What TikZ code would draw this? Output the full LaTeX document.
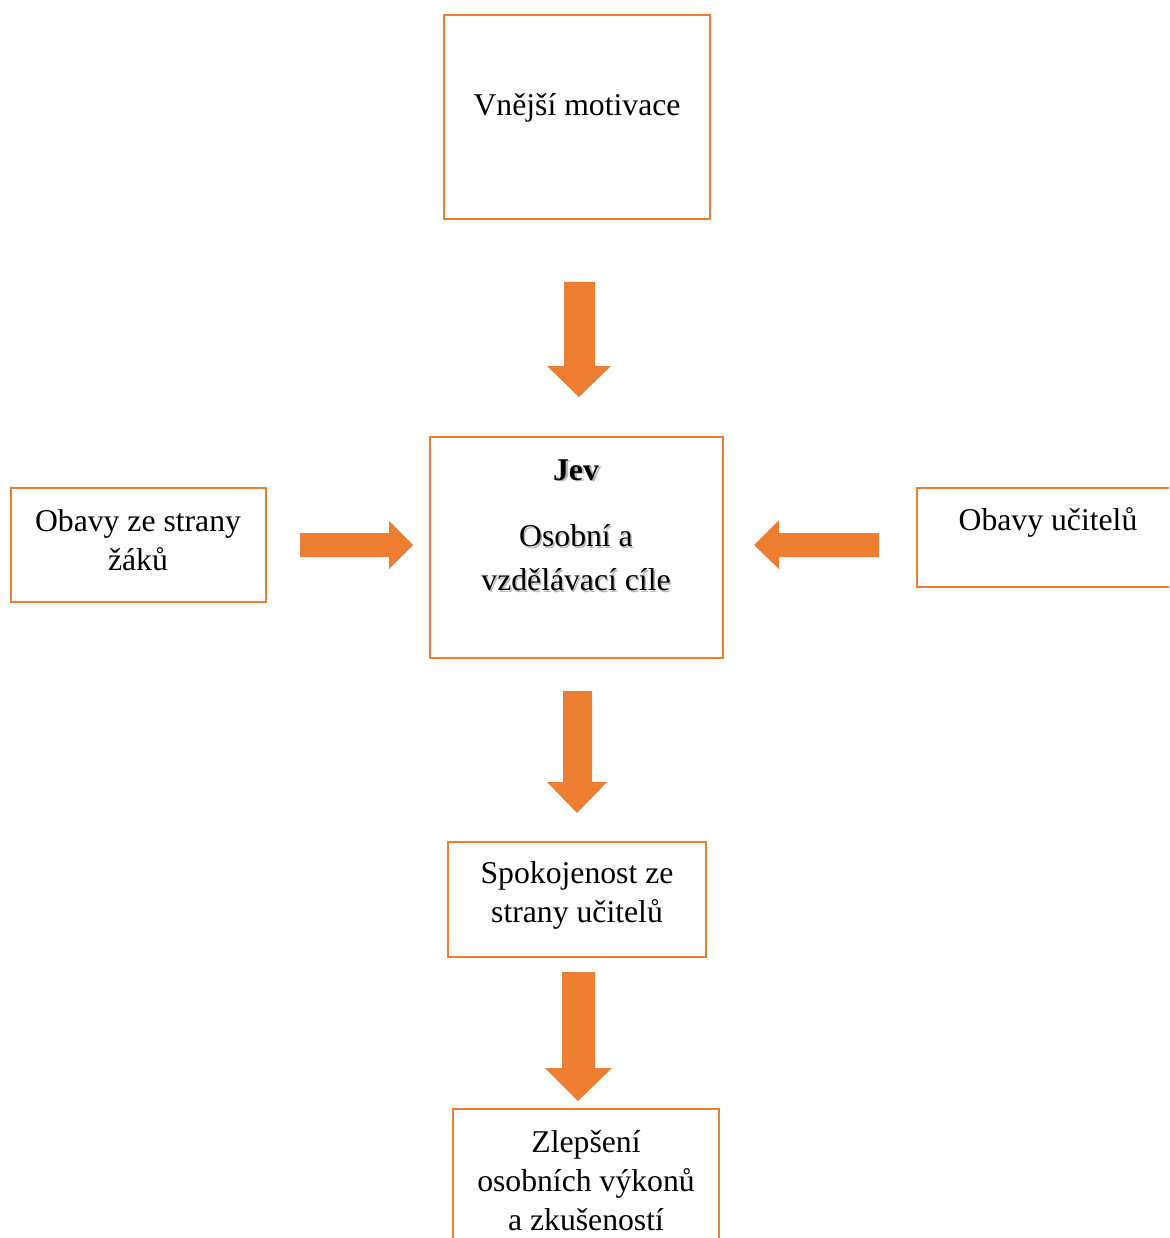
\documentclass[tikz,border=0pt]{standalone}
\usepackage{fontspec}
\setmainfont{Liberation Serif}
\definecolor{orng}{HTML}{ED7D31}
\begin{document}
\begin{tikzpicture}[x=1pt,y=-1pt,
  box/.style={draw=orng,line width=2.6pt,fill=none,inner sep=0pt,outer sep=0pt,anchor=north west},
  txt/.style={font=\fontsize{31.7}{39}\selectfont,align=center,inner sep=0pt,text=black},
  shd/.style={font=\fontsize{31.7}{44}\selectfont,align=center,inner sep=0pt,text=black!45,opacity=0.6},
  blockarrow/.style={fill=orng,draw=none}]
\useasboundingbox (0,0) rectangle (1169,1238);
\clip (0,0) rectangle (1169,1238);
\fill[white] (0,0) rectangle (1169,1238);
% boxes
\node[box,minimum width=266pt,minimum height=204pt] (top) at (444,15) {};
\node[box,line width=2pt,minimum width=293pt,minimum height=221pt] (mid) at (430,437) {};
\node[box,minimum width=255pt,minimum height=114pt] (left) at (11,488) {};
\node[box,minimum width=270pt,minimum height=99pt] (right) at (917,488) {};
\node[box,minimum width=258pt,minimum height=115pt] (spok) at (448,842) {};
\node[box,minimum width=266pt,minimum height=150pt] (bot) at (453,1109) {};
% texts
\node[txt] (ttop) at (577,108) {Vnější motivace};
\node[shd,font=\fontsize{31.7}{44}\selectfont\bfseries] at (578.5,471.5) {Jev};
\node[txt,font=\fontsize{31.7}{44}\selectfont\bfseries] (tjev) at (576,470) {Jev};
\node[shd] at (577.5,559.5) {Osobní a\\vzdělávací cíle};
\node[txt,font=\fontsize{31.7}{44}\selectfont] (tmid) at (576,558) {Osobní a\\vzdělávací cíle};
\node[txt] (tleft) at (138,540) {Obavy ze strany\\žáků};
\node[txt] (tright) at (1048,522) {Obavy učitelů};
\node[txt] (tspok) at (577,895) {Spokojenost ze\\strany učitelů};
\node[txt] (tbot) at (586,1181) {Zlepšení\\osobních výkonů\\a zkušeností};
% block arrows
\fill[blockarrow] (564,282) -- (595,282) -- (595,366) -- (611,366) -- (579,397) -- (547,366) -- (564,366) -- cycle;
\fill[blockarrow] (300,533) -- (389,533) -- (389,521) -- (413,545) -- (389,569) -- (389,557) -- (300,557) -- cycle;
\fill[blockarrow] (879,533) -- (779,533) -- (779,520) -- (754,545) -- (779,569) -- (779,557) -- (879,557) -- cycle;
\fill[blockarrow] (563,691) -- (592,691) -- (592,782) -- (607,782) -- (577,813) -- (547,782) -- (563,782) -- cycle;
\fill[blockarrow] (562,972) -- (595,972) -- (595,1068) -- (612,1068) -- (578,1101) -- (545,1068) -- (562,1068) -- cycle;
\end{tikzpicture}
\end{document}
